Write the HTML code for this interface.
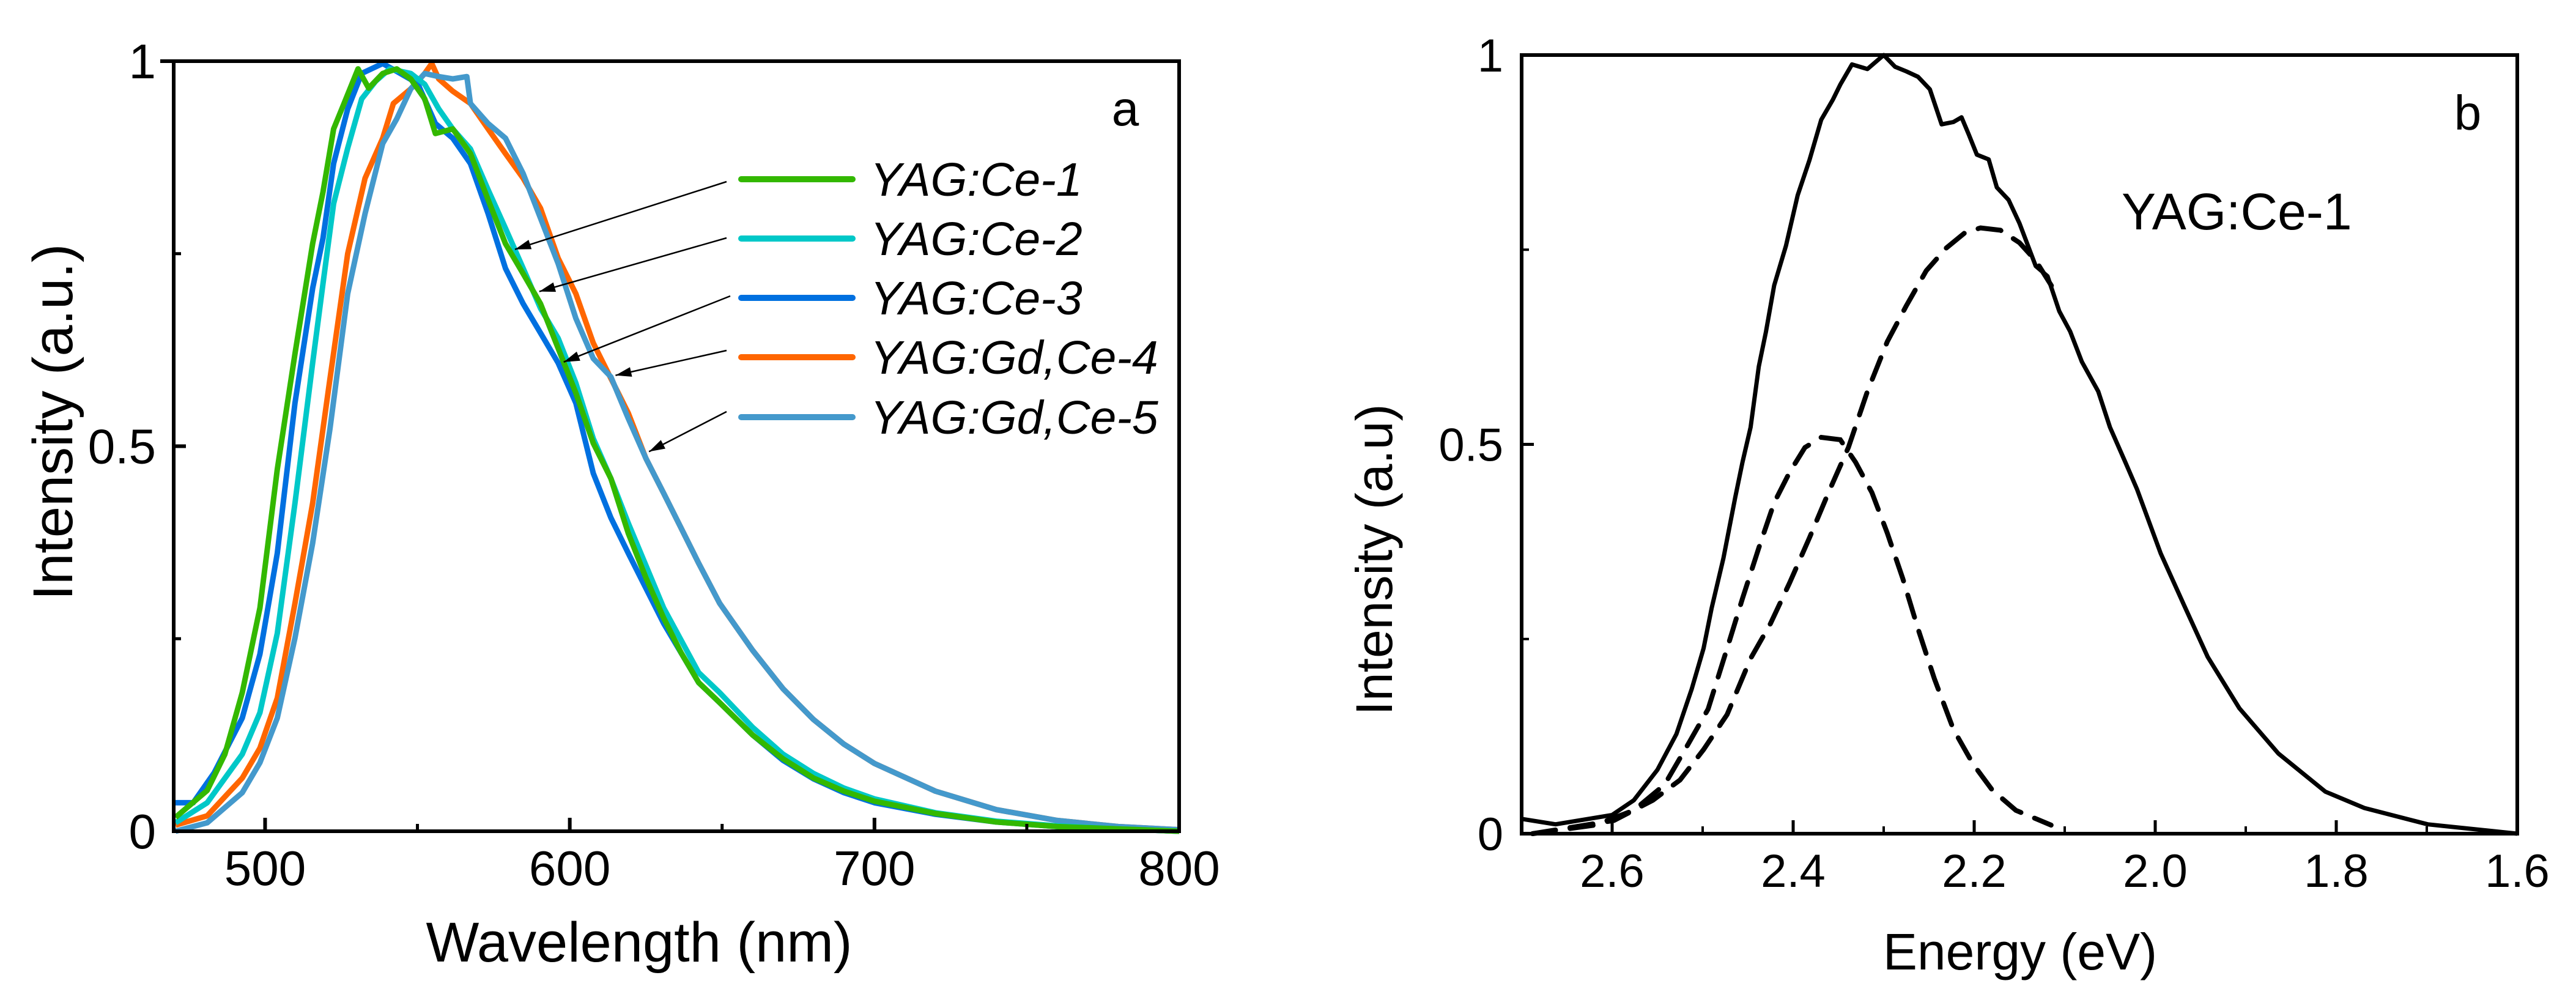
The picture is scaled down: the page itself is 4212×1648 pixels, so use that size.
<!DOCTYPE html>
<html><head><meta charset="utf-8"><style>
html,body{margin:0;padding:0;background:#fff;}
svg{display:block;font-family:"Liberation Sans",Arial,sans-serif;}
</style></head><body>
<svg id="fig" width="4212" height="1648" viewBox="0 0 4212 1648" xmlns="http://www.w3.org/2000/svg">
<rect width="4212" height="1648" fill="#fff"/>
<g id="pa"></g>
<g id="pb"></g>
</svg>
<script>
// ---------- Panel a data ----------
const wl1 = [470.6,481.0,486.8,492.5,498.3,504.0,509.8,515.6,519.0,522.5,525.9,530.5,534.0,538.6,543.2,547.8,552.4,555.9,561.6,567.4,573.2,578.9,584.7,590.4,596.2,602.0,607.7,613.5,619.2,625.0,630.8,636.5,642.3,649.2,660,670,680,690,700,720,740,760,780,800];
const ce1 = [0.018,0.053,0.10,0.18,0.29,0.47,0.62,0.763,0.83,0.912,0.945,0.99,0.965,0.984,0.99,0.977,0.951,0.906,0.912,0.88,0.82,0.763,0.724,0.685,0.627,0.569,0.504,0.458,0.387,0.329,0.277,0.232,0.193,0.167,0.125,0.094,0.069,0.052,0.039,0.023,0.012,0.006,0.003,0];
const wl2 = [470.6,481.0,492.5,498.3,504.0,509.8,515.6,519.0,522.5,527.1,531.7,536.3,540.9,547.8,552.4,557.0,561.6,567.4,573.2,578.9,584.7,590.4,596.2,602.0,607.7,613.5,619.2,630.8,642.3,649.2,660,670,680,690,700,720,740,760,780,800];
const ce2 = [0.011,0.037,0.10,0.154,0.257,0.426,0.608,0.711,0.815,0.887,0.951,0.974,0.99,0.984,0.97,0.938,0.912,0.886,0.833,0.783,0.731,0.679,0.64,0.582,0.51,0.458,0.40,0.29,0.206,0.18,0.135,0.10,0.075,0.056,0.042,0.024,0.013,0.007,0.003,0];
const wl3 = [470.6,476.4,483.3,492.5,498.3,504.0,509.8,515.6,519.0,522.5,527.1,531.7,538.6,544.4,550.1,555.9,561.6,567.4,573.2,578.9,584.7,590.4,596.2,602.0,607.7,613.5,619.2,630.8,642.3,649.2,660,670,680,690,700,720,740,760,780,800];
const ce3 = [0.037,0.037,0.076,0.147,0.23,0.361,0.556,0.705,0.77,0.867,0.938,0.984,0.997,0.984,0.971,0.919,0.9,0.867,0.802,0.731,0.685,0.647,0.608,0.556,0.465,0.407,0.361,0.27,0.193,0.167,0.125,0.092,0.068,0.05,0.037,0.022,0.012,0.006,0.003,0];
const wl4 = [470.6,481.0,492.5,498.3,504.0,509.8,515.6,521.3,527.1,532.8,538.6,542.1,547.8,552.4,554.7,557.0,561.6,567.4,573.2,578.9,584.7,590.4,596.2,602.0,607.7,613.5,619.2,625.0,630.8,636.5,642.3,649.2,660,670,680,690,700,720,740,760,780,800];
const gd4 = [0.008,0.02,0.069,0.108,0.173,0.296,0.426,0.588,0.75,0.848,0.90,0.945,0.964,0.984,0.997,0.977,0.961,0.945,0.912,0.88,0.848,0.809,0.744,0.698,0.634,0.588,0.543,0.484,0.439,0.394,0.348,0.296,0.235,0.185,0.145,0.113,0.088,0.052,0.028,0.014,0.006,0.002];
const wl5 = [470.6,481.0,492.5,498.3,504.0,509.8,515.6,521.3,527.1,532.8,538.6,543.2,547.8,552.4,557.0,561.6,566.2,567.4,573.2,578.9,584.7,590.4,596.2,602.0,607.7,613.5,619.2,625.0,630.8,636.5,642.3,649.2,660,670,680,690,700,720,740,760,780,800];
const gd5 = [0.0,0.011,0.05,0.089,0.147,0.251,0.374,0.523,0.698,0.802,0.893,0.925,0.964,0.984,0.98,0.977,0.98,0.945,0.919,0.90,0.854,0.796,0.737,0.666,0.614,0.59,0.536,0.484,0.439,0.394,0.348,0.296,0.235,0.185,0.145,0.113,0.088,0.052,0.028,0.014,0.006,0.002];
const seriesNamesA = ["YAG:Ce-1","YAG:Ce-2","YAG:Ce-3","YAG:Gd,Ce-4","YAG:Gd,Ce-5"];
const xTicksA = [500,600,700,800];
const xMinorA = [550,650,750];
const yTicksA = [0,0.5,1];
const yTickLabelsA = ["0","0.5","1"];
const yMinor = [0.25,0.75];
const arrowTargetsWl = [580,588,596,613,624];

// ---------- Panel b data ----------
const eB = [2.7,2.6625,2.6,2.576,2.55,2.529,2.512,2.499,2.49,2.477,2.464,2.456,2.447,2.438,2.430,2.421,2.408,2.395,2.382,2.369,2.356,2.348,2.335,2.318,2.3,2.2875,2.275,2.262,2.249,2.236,2.223,2.214,2.206,2.197,2.184,2.175,2.162,2.150,2.132,2.119,2.106,2.094,2.081,2.063,2.05,2.033,2.02,1.994,1.968,1.942,1.907,1.864,1.812,1.769,1.699,1.6];
const solidB = [0.019,0.012,0.024,0.043,0.082,0.128,0.186,0.238,0.29,0.354,0.432,0.477,0.522,0.60,0.645,0.704,0.755,0.82,0.865,0.917,0.943,0.962,0.988,0.982,1.0,0.985,0.979,0.972,0.956,0.911,0.914,0.92,0.898,0.872,0.866,0.83,0.814,0.784,0.729,0.716,0.671,0.645,0.606,0.568,0.522,0.477,0.442,0.36,0.293,0.227,0.161,0.103,0.054,0.033,0.012,0.0];
const eD1 = [2.688,2.619,2.576,2.542,2.516,2.494,2.473,2.456,2.438,2.421,2.404,2.387,2.369,2.348,2.331,2.313,2.296,2.279,2.262,2.244,2.223,2.201,2.18,2.154,2.115];
const dash1 = [0.0,0.011,0.03,0.063,0.115,0.16,0.238,0.302,0.367,0.425,0.464,0.496,0.509,0.506,0.477,0.438,0.386,0.328,0.263,0.199,0.134,0.089,0.056,0.03,0.011];
const eD2 = [2.688,2.598,2.555,2.525,2.499,2.473,2.447,2.425,2.404,2.382,2.361,2.339,2.318,2.296,2.275,2.253,2.231,2.21,2.193,2.171,2.15,2.132,2.111];
const dash2 = [0.0,0.017,0.043,0.069,0.108,0.153,0.225,0.27,0.322,0.38,0.438,0.496,0.568,0.632,0.678,0.723,0.752,0.772,0.778,0.775,0.759,0.736,0.697];
const xTicksB = [2.6,2.4,2.2,2.0,1.8,1.6];
const xTickLabelsB = ["2.6","2.4","2.2","2.0","1.8","1.6"];
const xMinorB = [2.5,2.3,2.1,1.9,1.7];

const NS="http://www.w3.org/2000/svg";
function mk(parent,tag,attrs,text){const e=document.createElementNS(NS,tag);for(const k in attrs)e.setAttribute(k,attrs[k]);if(text!==undefined)e.textContent=text;parent.appendChild(e);return e;}

// ---------- Panel a ----------
const A={L:284,R:1928,T:100,B:1359,xmin:470,xmax:800};
const xa=v=>A.L+(v-A.xmin)/(A.xmax-A.xmin)*(A.R-A.L);
const ya=v=>A.B-v*(A.B-A.T);
const pa=document.getElementById('pa');
const colorsA=["#33b800","#00c8c8","#0070e0","#ff6600","#4499cc"];
const xsA=[wl1,wl2,wl3,wl4,wl5];
const dataA=[ce1,ce2,ce3,gd4,gd5];
const order=[3,4,2,1,0];
order.forEach(i=>{
  const d=xsA[i].map((w,j)=>(j?'L':'M')+xa(w).toFixed(1)+','+ya(dataA[i][j]).toFixed(1)).join(' ');
  const p=mk(pa,'path',{d:d,fill:'none',stroke:colorsA[i],'stroke-width':9,'stroke-linejoin':'round'});
  
  
});
const fa=mk(pa,'rect',{x:A.L,y:A.T,width:A.R-A.L,height:A.B-A.T,fill:'none',stroke:'#000','stroke-width':6});


mk(pa,'line',{x1:A.L-22,y1:A.T,x2:A.L,y2:A.T,stroke:'#000','stroke-width':6});
xTicksA.forEach(v=>{
  const t=mk(pa,'line',{x1:xa(v),y1:A.B,x2:xa(v),y2:A.B-22,stroke:'#000','stroke-width':6});
  
  
  const l=mk(pa,'text',{x:xa(v),y:1447,'font-size':80,'text-anchor':'middle'},String(v));
  
  
});
xMinorA.forEach(v=>mk(pa,'line',{x1:xa(v),y1:A.B,x2:xa(v),y2:A.B-12,stroke:'#000','stroke-width':5}));
yTicksA.forEach((v,i)=>{
  mk(pa,'line',{x1:A.L,y1:ya(v),x2:A.L+20,y2:ya(v),stroke:'#000','stroke-width':6});
  const l=mk(pa,'text',{x:255,y:ya(v)+28,'font-size':80,'text-anchor':'end'},yTickLabelsA[i]);
  
  
});
yMinor.forEach(v=>mk(pa,'line',{x1:A.L,y1:ya(v),x2:A.L+12,y2:ya(v),stroke:'#000','stroke-width':5}));
let t;
t=mk(pa,'text',{x:1045,y:1572,'font-size':92,'text-anchor':'middle'},'Wavelength (nm)');

t=mk(pa,'text',{x:0,y:0,'font-size':92,'text-anchor':'middle',transform:'translate(118,690) rotate(-90)'},'Intensity (a.u.)');

t=mk(pa,'text',{x:1840,y:205,'font-size':80,'text-anchor':'middle'},'a');

const legY=[293,390,487,584,682];
const arrowStart=[[1188,297],[1188,389],[1194,484],[1188,573],[1188,673]];
seriesNamesA.forEach((n,i)=>{
  const g=mk(pa,'g',{});
  
  
  mk(g,'line',{x1:1212,y1:legY[i],x2:1394,y2:legY[i],stroke:colorsA[i],'stroke-width':10,'stroke-linecap':'round'});
  mk(g,'text',{x:1423,y:legY[i]+27,'font-size':77,'font-style':'italic'},n);
  const w=arrowTargetsWl[i];
  const xs=xsA[i];
  let j=0;while(j<xs.length-2&&xs[j+1]<w)j++;
  const f=(w-xs[j])/(xs[j+1]-xs[j]);
  const yv=dataA[i][j]+(dataA[i][j+1]-dataA[i][j])*f;
  const tx=xa(w)+10,ty=ya(yv);
  const [sx,sy]=arrowStart[i];
  const ang=Math.atan2(ty-sy,tx-sx);
  const a=mk(g,'line',{x1:sx,y1:sy,x2:tx,y2:ty,stroke:'#000','stroke-width':2.5});
  
  
  const hl=26,hw=8;
  const bx=tx-hl*Math.cos(ang),by=ty-hl*Math.sin(ang);
  mk(g,'polygon',{points:`${tx},${ty} ${bx+hw*Math.sin(ang)},${by-hw*Math.cos(ang)} ${bx-hw*Math.sin(ang)},${by+hw*Math.cos(ang)}`,fill:'#000'});
});

// ---------- Panel b ----------
const B={L:2488,R:4116,T:90,B:1363,xmin:2.7,xmax:1.6};
const xb=v=>B.L+(B.xmin-v)/(B.xmin-B.xmax)*(B.R-B.L);
const yb=v=>B.B-v*(B.B-B.T);
const pb=document.getElementById('pb');
function pathB(xs,ys){return xs.map((x,j)=>(j?'L':'M')+xb(x).toFixed(1)+','+yb(ys[j]).toFixed(1)).join(' ');}
t=mk(pb,'path',{d:pathB(eD1,dash1),fill:'none',stroke:'#000','stroke-width':8,'stroke-dasharray':'38 24','stroke-linecap':'round'});

t=mk(pb,'path',{d:pathB(eD2,dash2),fill:'none',stroke:'#000','stroke-width':8,'stroke-dasharray':'38 24','stroke-linecap':'round'});

t=mk(pb,'path',{d:pathB(eB,solidB),fill:'none',stroke:'#000','stroke-width':7,'stroke-linejoin':'round'});

t=mk(pb,'rect',{x:B.L,y:B.T,width:B.R-B.L,height:B.B-B.T,fill:'none',stroke:'#000','stroke-width':6});

xTicksB.forEach((v,i)=>{
  mk(pb,'line',{x1:xb(v),y1:B.B,x2:xb(v),y2:B.B-22,stroke:'#000','stroke-width':5});
  const l=mk(pb,'text',{x:xb(v),y:1450,'font-size':76,'text-anchor':'middle'},xTickLabelsB[i]);
  
  
});
xMinorB.forEach(v=>mk(pb,'line',{x1:xb(v),y1:B.B,x2:xb(v),y2:B.B-12,stroke:'#000','stroke-width':4}));
yTicksA.forEach((v,i)=>{
  mk(pb,'line',{x1:B.L,y1:yb(v),x2:B.L+20,y2:yb(v),stroke:'#000','stroke-width':5});
  const l=mk(pb,'text',{x:2458,y:yb(v)+27,'font-size':76,'text-anchor':'end'},yTickLabelsA[i]);
  
  
});
yMinor.forEach(v=>mk(pb,'line',{x1:B.L,y1:yb(v),x2:B.L+12,y2:yb(v),stroke:'#000','stroke-width':4}));
t=mk(pb,'text',{x:3303,y:1585,'font-size':84,'text-anchor':'middle'},'Energy (eV)');

t=mk(pb,'text',{x:0,y:0,'font-size':84,'text-anchor':'middle',transform:'translate(2276,915) rotate(-90)'},'Intensity (a.u)');

t=mk(pb,'text',{x:4035,y:212,'font-size':80,'text-anchor':'middle'},'b');

t=mk(pb,'text',{x:3469,y:375,'font-size':84},'YAG:Ce-1');

</script>
</body></html>
